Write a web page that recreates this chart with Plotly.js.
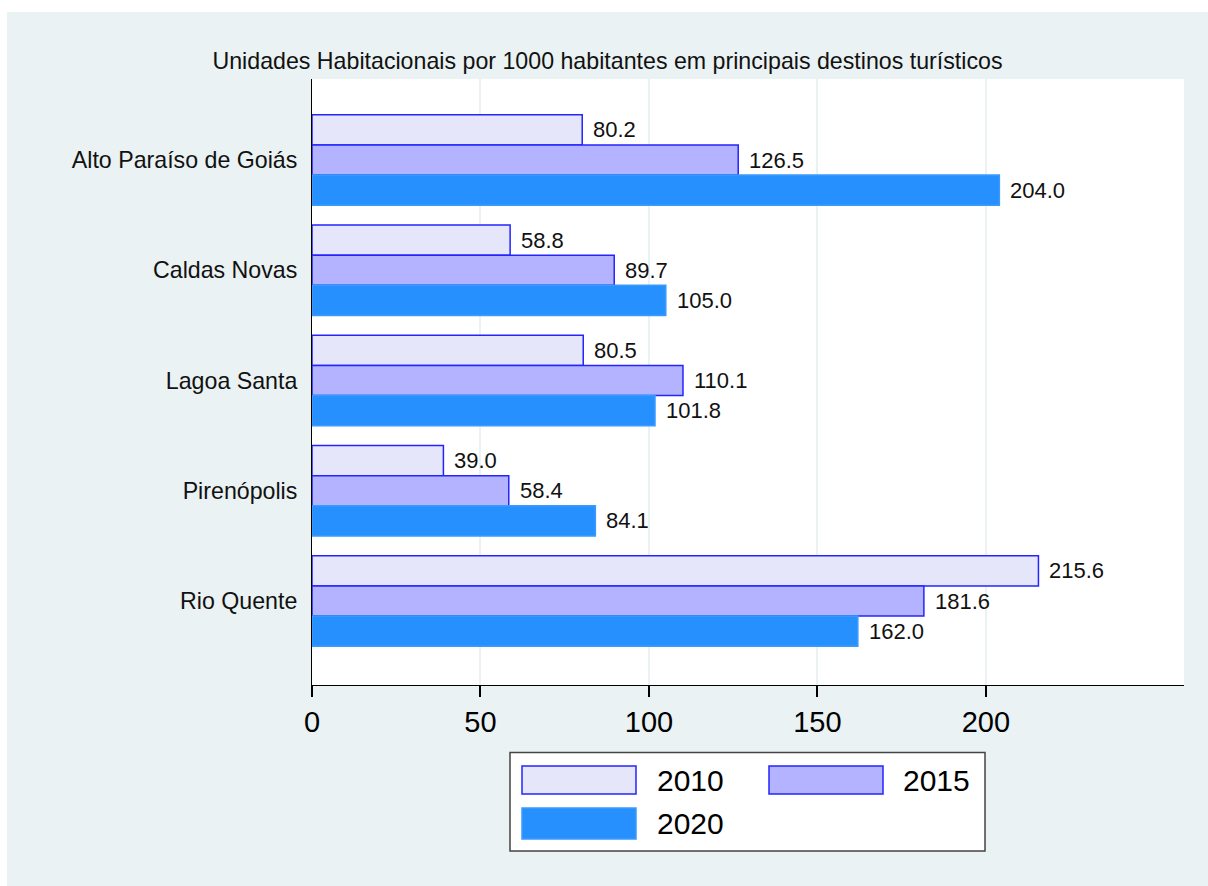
<!DOCTYPE html>
<html>
<head>
<meta charset="utf-8">
<script src="https://cdn.plot.ly/plotly-3.0.1.min.js"></script>
<style>
html,body{margin:0;padding:0;background:#ffffff;width:1208px;height:886px;overflow:hidden;}
#chart{position:absolute;left:7px;top:12px;width:1201px;height:874px;}
</style>
</head>
<body>
<div id="chart"></div>
<script>
// ---- data ----
const categories = ["Alto Paraíso de Goiás", "Caldas Novas", "Lagoa Santa", "Pirenópolis", "Rio Quente"];
const seriesNames = ["2010", "2015", "2020"];
const values2010 = [80.2, 58.8, 80.5, 39.0, 215.6];
const values2015 = [126.5, 89.7, 110.1, 58.4, 181.6];
const values2020 = [204.0, 105.0, 101.8, 84.1, 162.0];
const xTickVals = [0, 50, 100, 150, 200];
const titleText = "Unidades Habitacionais por 1000 habitantes em principais destinos turísticos";

// ---- styles ----
const fills = ["#E6E6FB", "#B3B3FF", "#2690FF"];
const outlines = ["#2424FF", "#2424FF", "#3A9BFF"];
const FONT = "Liberation Sans, Arial, sans-serif";
const bargap = 0.18;
const allValues = [values2010, values2015, values2020];

// plot area in page pixels
const DIV_L = 7, DIV_T = 12;
const PX0 = 312, PX1 = 1184, PY0 = 79, PY1 = 685;
function px(x){ return (x - PX0) / (PX1 - PX0); }
function py(y){ return (PY1 - y) / (PY1 - PY0); }

const traces = allValues.map((vals, i) => ({
  type: "bar",
  orientation: "h",
  name: seriesNames[i],
  y: categories,
  x: vals,
  marker: {color: fills[i], line: {color: outlines[i], width: 1.5}},
  showlegend: false,
  hoverinfo: "x+y"
}));

const annotations = [];
const slot = (1 - bargap) / 3;
allValues.forEach((vals, i) => {
  vals.forEach((v, j) => {
    annotations.push({
      x: v, y: j + (i - 1) * slot, xref: "x", yref: "y",
      text: v.toFixed(1), showarrow: false,
      xanchor: "left", yanchor: "middle", xshift: 9,
      font: {family: FONT, size: 22, color: "#111111"}
    });
  });
});

// custom legend
const shapes = [];
shapes.push({type: "rect", xref: "paper", yref: "paper",
  x0: px(510), x1: px(985), y0: py(752.5), y1: py(851),
  fillcolor: "#ffffff", line: {color: "#444444", width: 1.5}});
const legendItems = [
  {sx0: 522, sx1: 636, sy0: 766, sy1: 794, tx: 655, ty: 780},
  {sx0: 769, sx1: 883, sy0: 766, sy1: 794, tx: 901, ty: 780},
  {sx0: 522, sx1: 636, sy0: 808, sy1: 839, tx: 655, ty: 823}
];
legendItems.forEach((it, i) => {
  shapes.push({type: "rect", xref: "paper", yref: "paper",
    x0: px(it.sx0), x1: px(it.sx1), y0: py(it.sy1), y1: py(it.sy0),
    fillcolor: fills[i], line: {color: outlines[i], width: 1.5}});
  annotations.push({xref: "paper", yref: "paper", x: px(it.tx), y: py(it.ty),
    xanchor: "left", yanchor: "middle", showarrow: false, text: seriesNames[i],
    font: {family: FONT, size: 30, color: "#000000"}});
});

const layout = {
  width: 1201, height: 874,
  margin: {l: PX0 - DIV_L, r: 1201 - (PX1 - DIV_L), t: PY0 - DIV_T, b: 874 - (PY1 - DIV_T), pad: 0},
  paper_bgcolor: "#EAF2F3",
  plot_bgcolor: "#ffffff",
  barmode: "group",
  bargap: bargap,
  bargroupgap: 0,
  font: {family: FONT, color: "#000000"},
  title: {text: titleText, x: 0.5, xref: "container", xanchor: "center",
          y: 1 - (61 - DIV_T) / 874, yref: "container", yanchor: "middle",
          font: {family: FONT, size: 23.2, color: "#111111"}},
  xaxis: {
    range: [0, 258.8], tickvals: xTickVals, ticktext: xTickVals.map(String),
    showgrid: true, gridcolor: "#EAF2F3", gridwidth: 2,
    zeroline: false, showline: true, linecolor: "#000000", linewidth: 1,
    ticks: "outside", ticklen: 11, tickcolor: "#000000", tickwidth: 1.5,
    tickfont: {family: FONT, size: 29, color: "#000000"},
    fixedrange: true
  },
  yaxis: {
    type: "category", categoryorder: "array", categoryarray: categories,
    range: [4.762, -0.735],
    showgrid: false, zeroline: false,
    showline: true, linecolor: "#000000", linewidth: 1,
    ticks: "", ticklabelstandoff: 9,
    tickfont: {family: FONT, size: 23.2, color: "#111111"},
    fixedrange: true
  },
  shapes: shapes,
  annotations: annotations,
  showlegend: false
};

Plotly.newPlot("chart", traces, layout, {displayModeBar: false, staticPlot: false});
</script>
</body>
</html>
